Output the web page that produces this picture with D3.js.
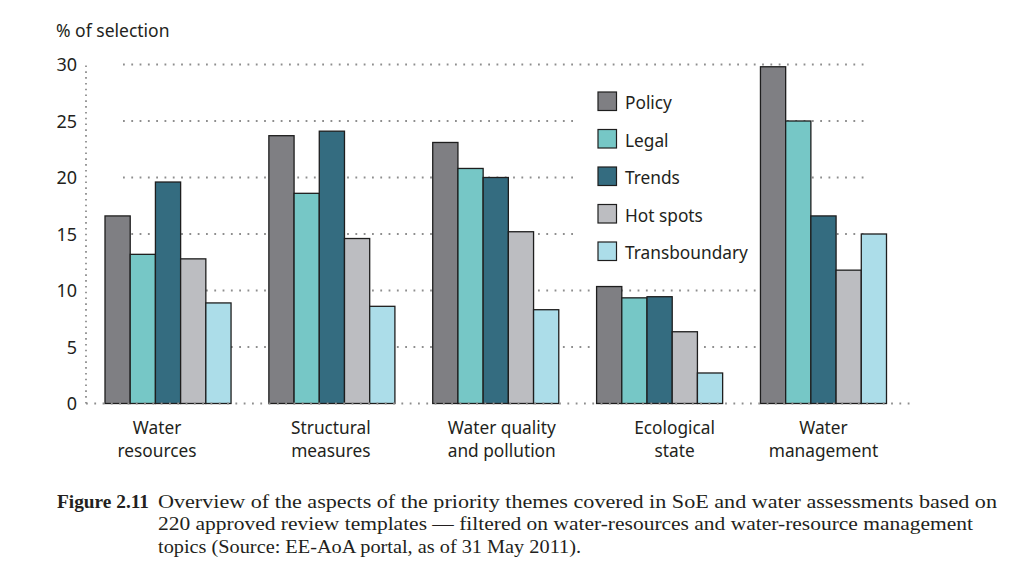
<!DOCTYPE html>
<html><head><meta charset="utf-8">
<script src="https://cdn.jsdelivr.net/npm/d3@7"></script>
<style>body{margin:0;background:#fff}svg{display:block}</style></head>
<body><svg id="c" width="1028" height="584"></svg>
<script>
const categories = ["Water resources","Structural measures","Water quality and pollution","Ecological state","Water management"];
const categoryLines = [["Water","resources"],["Structural","measures"],["Water quality","and pollution"],["Ecological","state"],["Water","management"]];
const seriesNames = ["Policy","Legal","Trends","Hot spots","Transboundary"];
const policy = [16.6, 23.7, 23.1, 10.35, 29.8];
const legal = [13.2, 18.6, 20.8, 9.35, 25.0];
const trends = [19.6, 24.1, 20.0, 9.45, 16.6];
const hotSpots = [12.8, 14.6, 15.2, 6.35, 11.8];
const transboundary = [8.9, 8.6, 8.3, 2.7, 15.0];
const yTicks = [0, 5, 10, 15, 20, 25, 30];
const yTitle = "% of selection";
const captionLabel = "Figure 2.11";
const captionLines = [
  "Overview of the aspects of the priority themes covered in SoE and water assessments based on",
  "220 approved review templates \u2014 filtered on water-resources and water-resource management",
  "topics (Source: EE-AoA portal, as of 31 May 2011)."
];

const seriesValues = [policy, legal, trends, hotSpots, transboundary];
const colors = ["#7f7f83", "#76c7c6", "#346c80", "#bcbdc1", "#acdde9"];
const sansFont = "'Noto Sans', sans-serif";
const textColor = "#231f20";
const dotColor = "#8e8e8e";

const svg = d3.select("#c");

const x0 = d3.scaleBand().domain(categories).range([105, 886.5]).paddingInner(0.2308).paddingOuter(0);
const x1 = d3.scaleBand().domain(seriesNames).range([0, x0.bandwidth()]);
const y = d3.scaleLinear().domain([0, 30]).range([403.5, 64.5]);

// gridlines (behind bars)
svg.append("g").selectAll("line").data(yTicks.filter(d => d > 0)).join("line")
  .attr("x1", 123).attr("x2", 867)
  .attr("y1", d => y(d)).attr("y2", d => y(d))
  .attr("stroke", dotColor).attr("stroke-width", 1.8)
  .attr("stroke-dasharray", "1.8 6.5");

// legend background masks gridlines
svg.append("rect").attr("x", 578).attr("y", 84).attr("width", 180).attr("height", 188).attr("fill", "#fff");

// bars
const rows = categories.map((c, i) => ({cat: c, vals: seriesNames.map((s, j) => ({s, v: seriesValues[j][i], j}))}));
const g = svg.append("g").selectAll("g").data(rows).join("g")
  .attr("transform", d => `translate(${x0(d.cat)},0)`);
g.selectAll("rect").data(d => d.vals).join("rect")
  .attr("x", d => x1(d.s)).attr("width", x1.bandwidth())
  .attr("y", d => y(d.v)).attr("height", d => y(0) - y(d.v))
  .attr("fill", d => colors[d.j])
  .attr("stroke", "#1e1e1e").attr("stroke-width", 1.3);

// baseline dotted
svg.append("line").attr("x1", 86).attr("x2", 910).attr("y1", y(0)).attr("y2", y(0))
  .attr("stroke", dotColor).attr("stroke-width", 1.8).attr("stroke-dasharray", "1.8 6.5");
// y axis dotted
svg.append("line").attr("x1", 86).attr("x2", 86).attr("y1", y(0)).attr("y2", y(30) - 2)
  .attr("stroke", dotColor).attr("stroke-width", 1.8).attr("stroke-dasharray", "1.6 4.2");

// y axis labels
const yAxis = d3.axisLeft(y).tickValues(yTicks).tickSize(0).tickPadding(0).tickFormat(d3.format("d"));
const ya = svg.append("g").attr("transform", "translate(77,0)").call(yAxis);
ya.select(".domain").remove();
ya.selectAll("text").attr("font-family", sansFont).attr("font-size", 18).attr("fill", textColor).attr("dy", "0.34em");

svg.append("text").attr("x", 56).attr("y", 37).text(yTitle)
  .attr("font-family", sansFont).attr("font-size", 17.5).attr("fill", textColor);

// category labels
const labelDx = [-11, -1, 6, 15, 0];
categories.forEach((c, i) => {
  const cx = x0(c) + x0.bandwidth() / 2 + labelDx[i];
  const t = svg.append("text").attr("text-anchor", "middle")
    .attr("font-family", sansFont).attr("font-size", 17.3).attr("fill", textColor);
  categoryLines[i].forEach((ln, k) => {
    t.append("tspan").attr("x", cx).attr("y", 434 + k * 23).text(ln);
  });
});

// legend
const lg = svg.append("g").attr("transform", "translate(598,92)");
seriesNames.forEach((s, i) => {
  lg.append("rect").attr("x", 0).attr("y", i * 37.5).attr("width", 18.5).attr("height", 18.5)
    .attr("fill", colors[i]).attr("stroke", "#1e1e1e").attr("stroke-width", 1.2);
  lg.append("text").attr("x", 27).attr("y", i * 37.5 + 17).text(s)
    .attr("font-family", sansFont).attr("font-size", 17.3).attr("fill", textColor);
});

// caption
const serif = "'Liberation Serif', 'DejaVu Serif', serif";
svg.append("text").attr("x", 57).attr("y", 508).text(captionLabel)
  .attr("font-family", serif).attr("font-weight", "bold").attr("font-size", 19).attr("fill", textColor)
  .attr("textLength", 92).attr("lengthAdjust", "spacingAndGlyphs");
const capEnds = [997, 973, 581];
captionLines.forEach((ln, k) => {
  svg.append("text").attr("x", 158).attr("y", 508 + k * 22.4).text(ln)
    .attr("font-family", serif).attr("font-size", 19).attr("fill", textColor)
    .attr("textLength", capEnds[k] - 158).attr("lengthAdjust", "spacingAndGlyphs");
});
</script></body></html>
